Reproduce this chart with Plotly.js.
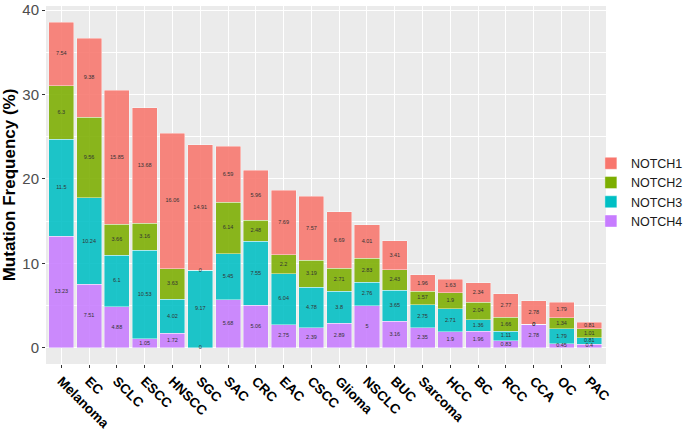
<!DOCTYPE html>
<html>
<head>
<meta charset="utf-8">
<script src="https://cdn.plot.ly/plotly-3.0.1.min.js"></script>
<style>
 body { margin:0; padding:0; background:#fff; }
 #myDiv { width:685px; height:432px; }
</style>
</head>
<body>
<div id="myDiv"></div>
<script>
var cancers = ['Melanoma','EC','SCLC','ESCC','HNSCC','SGC','SAC','CRC','EAC','CSCC',
               'Glioma','NSCLC','BUC','Sarcoma','HCC','BC','RCC','CCA','OC','PAC'];

var notch4 = [13.23, 7.51, 4.88, 1.05, 1.72, 0,    5.68, 5.06, 2.75, 2.39,
              2.89, 5,    3.16, 2.35, 1.9,  1.96, 0.83, 2.78, 0.45, 0.4];
var notch3 = [11.5, 10.24, 6.1, 10.53, 4.02, 9.17, 5.45, 7.55, 6.04, 4.78,
              3.8,  2.76, 3.65, 2.75, 2.71, 1.36, 1.11, 0,    1.79, 0.81];
var notch2 = [6.3,  9.56, 3.66, 3.16, 3.63, 0,    6.14, 2.48, 2.2,  3.19,
              2.71, 2.83, 2.43, 1.57, 1.9,  2.04, 1.66, 0,    1.34, 1.01];
var notch1 = [7.54, 9.38, 15.85, 13.68, 16.06, 14.91, 6.59, 5.96, 7.69, 7.57,
              6.69, 4.01, 3.41, 1.96, 1.63, 2.34, 2.77, 2.78, 1.79, 0.81];

var series = [
  {name:'NOTCH4', y:notch4, color:'#C77CFF'},
  {name:'NOTCH3', y:notch3, color:'#00BFC4'},
  {name:'NOTCH2', y:notch2, color:'#7CAE00'},
  {name:'NOTCH1', y:notch1, color:'#F8766D'}
];

var data = [];
var base = cancers.map(function(){ return 0; });
var labels = [];
series.forEach(function(s){
  data.push({
    type:'bar', name:s.name, x:cancers, y:s.y,
    marker:{color:s.color, opacity:0.88, line:{color:'rgba(255,255,255,0.7)', width:0.6}},
    hoverinfo:'skip'
  });
  var mid = [];
  for (var i=0;i<cancers.length;i++) {
    mid.push(base[i] + s.y[i]/2);
    base[i] += s.y[i];
  }
  labels.push({
    type:'scatter', mode:'text', x:cancers, y:mid,
    text:s.y.map(String), textposition:'middle center',
    textfont:{size:5.5, color:'#333', family:'Liberation Sans, Arial'},
    showlegend:false, hoverinfo:'skip'
  });
});
data = data.concat(labels);

var layout = {
  width:685, height:432,
  margin:{l:46, r:79, t:6, b:68, autoexpand:false},
  barmode:'stack', bargap:0.1,
  paper_bgcolor:'#fff', plot_bgcolor:'#EBEBEB',
  font:{family:'Liberation Sans, Arial, sans-serif'},
  xaxis:{
    type:'category', range:[-0.55, 19.6],
    showgrid:true, gridcolor:'#fff', gridwidth:1.1,
    zeroline:false, showline:false,
    ticks:'outside', ticklen:3, tickcolor:'#333',
    tickangle:45,
    tickfont:{size:13.5, color:'#000', family:'Liberation Sans, Arial', weight:'bold'}
  },
  yaxis:{
    range:[-1.93, 40.5],
    tickvals:[0,10,20,30,40],
    showgrid:true, gridcolor:'#fff', gridwidth:1.1,
    minor:{tickvals:[5,15,25,35], showgrid:true, gridcolor:'#fff', gridwidth:0.5},
    zeroline:false, showline:false,
    ticks:'outside', ticklen:3, tickcolor:'#333',
    tickfont:{size:15, color:'#4D4D4D'},
    title:{text:'Mutation Frequency (%)', standoff:6,
           font:{size:17, color:'#000', weight:'bold'}}
  },
  legend:{
    x:0.973, xanchor:'left', y:0.48, yanchor:'middle',
    bgcolor:'rgba(0,0,0,0)',
    traceorder:'reversed',
    font:{size:12.5, color:'#1a1a1a'},
    itemwidth:30, tracegroupgap:0
  }
};

Plotly.newPlot('myDiv', data, layout, {displayModeBar:false});
</script>
</body>
</html>
